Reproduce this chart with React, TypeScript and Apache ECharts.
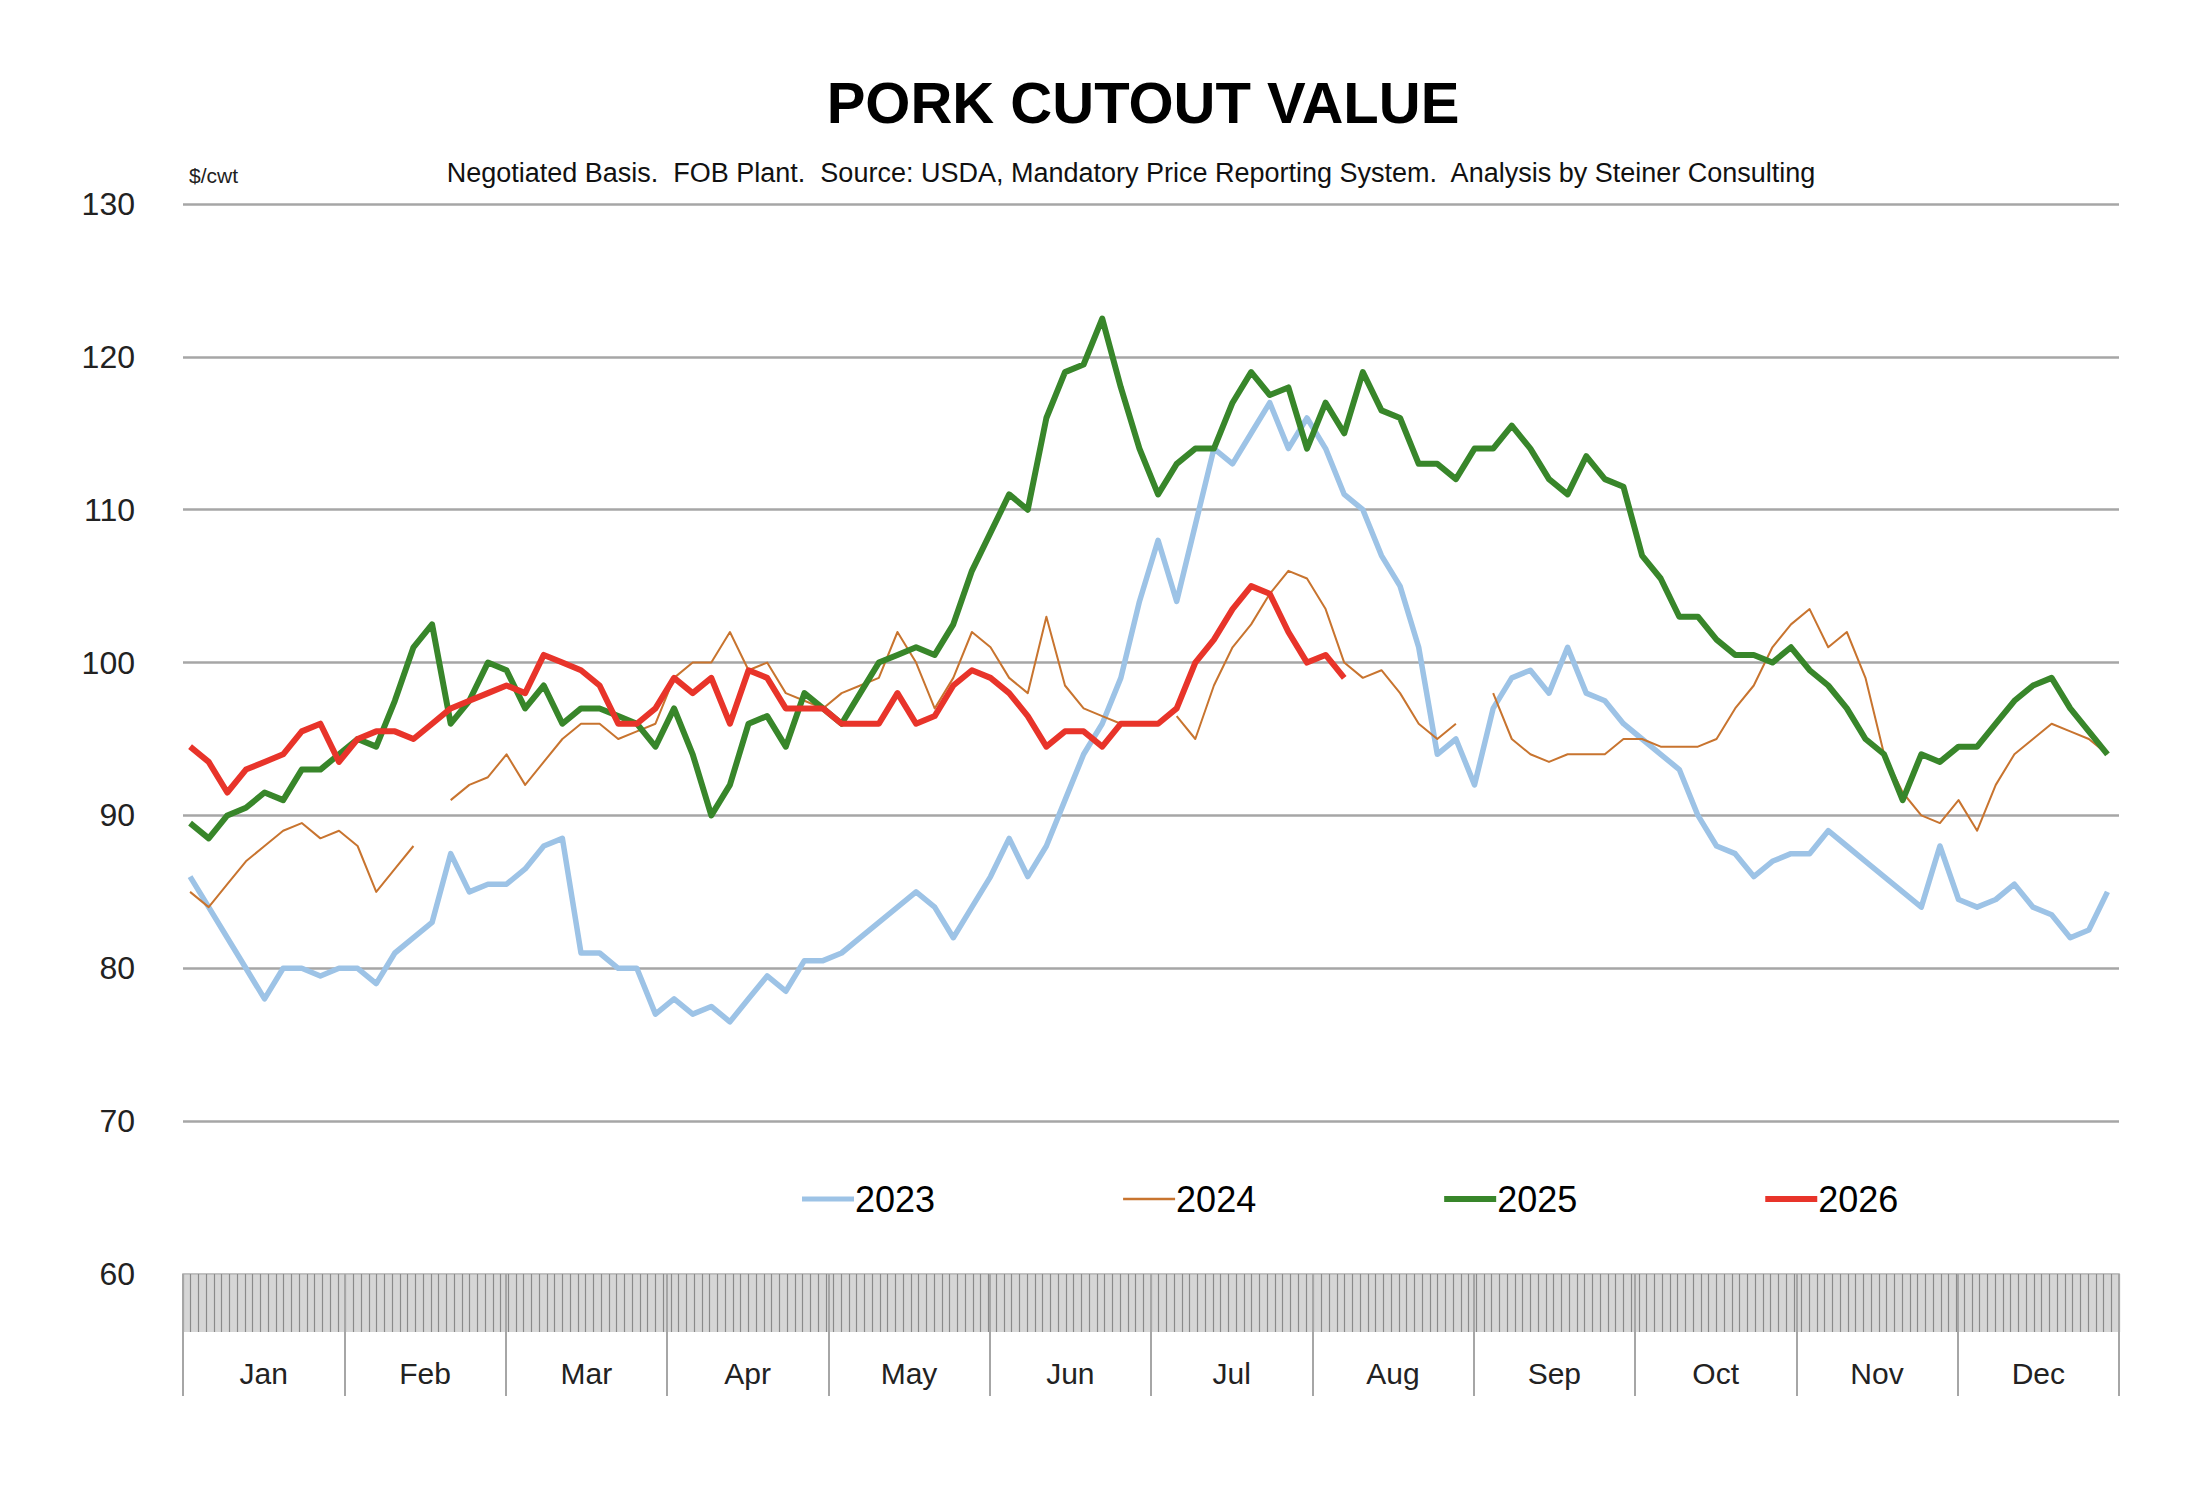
import { useEffect, useRef } from 'react'
import * as echarts from 'echarts'

// two readings per week, starting in early January
const years = ['2023', '2024', '2025', '2026']
const months = ['Jan', 'Feb', 'Mar', 'Apr', 'May', 'Jun', 'Jul', 'Aug', 'Sep', 'Oct', 'Nov', 'Dec']
const yTicks = { min: 60, max: 130, step: 10 }

const v2023 = [
  86, 84, 82, 80, 78, 80, 80, 79.5, 80, 80, 79, 81, 82, 83, 87.5, 85, 85.5, 85.5, 86.5, 88, 88.5, 81, 81, 80, 80, 77,
  78, 77, 77.5, 76.5, 78, 79.5, 78.5, 80.5, 80.5, 81, 82, 83, 84, 85, 84, 82, 84, 86, 88.5, 86, 88, 91, 94, 96, 99, 104,
  108, 104, 109, 114, 113, 115, 117, 114, 116, 114, 111, 110, 107, 105, 101, 94, 95, 92, 97, 99, 99.5, 98, 101, 98, 97.5,
  96, 95, 94, 93, 90, 88, 87.5, 86, 87, 87.5, 87.5, 89, 88, 87, 86, 85, 84, 88, 84.5, 84, 84.5, 85.5, 84, 83.5, 82, 82.5, 85,
]
const v2024 = [
  85, 84, 85.5, 87, 88, 89, 89.5, 88.5, 89, 88, 85, 86.5, 88, null, 91, 92, 92.5, 94, 92, 93.5, 95, 96, 96, 95, 95.5, 96,
  99, 100, 100, 102, 99.5, 100, 98, 97.5, 97, 98, 98.5, 99, 102, 100, 97, 99, 102, 101, 99, 98, 103, 98.5, 97, 96.5, 96, 96,
  null, 96.5, 95, 98.5, 101, 102.5, 104.5, 106, 105.5, 103.5, 100, 99, 99.5, 98, 96, 95, 96, null, 98, 95, 94, 93.5, 94,
  94, 94, 95, 95, 94.5, 94.5, 94.5, 95, 97, 98.5, 101, 102.5, 103.5, 101, 102, 99, 94, 91.5, 90, 89.5, 91, 89, 92, 94, 95,
  96, 95.5, 95, 94,
]
const v2025 = [
  89.5, 88.5, 90, 90.5, 91.5, 91, 93, 93, 94, 95, 94.5, 97.5, 101, 102.5, 96, 97.5, 100, 99.5, 97, 98.5, 96, 97, 97, 96.5,
  96, 94.5, 97, 94, 90, 92, 96, 96.5, 94.5, 98, 97, 96, 98, 100, 100.5, 101, 100.5, 102.5, 106, 108.5, 111, 110, 116, 119,
  119.5, 122.5, 118, 114, 111, 113, 114, 114, 117, 119, 117.5, 118, 114, 117, 115, 119, 116.5, 116, 113, 113, 112, 114, 114,
  115.5, 114, 112, 111, 113.5, 112, 111.5, 107, 105.5, 103, 103, 101.5, 100.5, 100.5, 100, 101, 99.5, 98.5, 97, 95, 94, 91,
  94, 93.5, 94.5, 94.5, 96, 97.5, 98.5, 99, 97, 95.5, 94,
]
const v2026 = [
  94.5, 93.5, 91.5, 93, 93.5, 94, 95.5, 96, 93.5, 95, 95.5, 95.5, 95, 96, 97, 97.5, 98, 98.5, 98, 100.5, 100, 99.5, 98.5,
  96, 96, 97, 99, 98, 99, 96, 99.5, 99, 97, 97, 97, 96, 96, 96, 98, 96, 96.5, 98.5, 99.5, 99, 98, 96.5, 94.5, 95.5, 95.5,
  94.5, 96, 96, 96, 97, 100, 101.5, 103.5, 105, 104.5, 102, 100, 100.5, 99,
]

const seriesValues = [v2023, v2024, v2025, v2026]
const colors = ['#9dc3e6', '#c8742f', '#38862a', '#e8342a']
const widths = [5.5, 2, 6, 6]
const legendThickness = [5, 2.5, 6, 6]
const POINTS = 104
const TRADING_DAYS = 250

const font = '"Liberation Sans", Arial, sans-serif'

export default function App() {
  const ref = useRef<HTMLDivElement | null>(null)

  useEffect(() => {
    if (!ref.current) return
    const chart = echarts.init(ref.current, undefined, { renderer: 'svg' })
    chart.setOption({
      animation: false,
      backgroundColor: '#fff',
      textStyle: { fontFamily: font },
      title: [
        {
          text: 'PORK CUTOUT VALUE',
          left: 1138,
          top: 68,
          textAlign: 'center',
          textStyle: { fontSize: 58, fontWeight: 'bold', color: '#000', fontFamily: font },
        },
        {
          text: 'Negotiated Basis.  FOB Plant.  Source: USDA, Mandatory Price Reporting System.  Analysis by Steiner Consulting',
          left: 1126,
          top: 154,
          textAlign: 'center',
          textStyle: { fontSize: 27, fontWeight: 'normal', color: '#111', fontFamily: font },
        },
        {
          text: '$/cwt',
          left: 184,
          top: 160,
          textStyle: { fontSize: 21, fontWeight: 'normal', color: '#222', fontFamily: font },
        },
      ],
      legend: {
        left: 797,
        top: 1176,
        itemWidth: 52,
        itemHeight: 36,
        itemGap: 188,
        data: years.map((y, i) => ({
          name: y,
          icon: `path://M0,${18 - legendThickness[i] / 2}H52V${18 + legendThickness[i] / 2}H0Z`,
          itemStyle: { color: colors[i] },
        })),
        textStyle: { fontSize: 36, color: '#000', fontFamily: font, padding: [0, 0, 0, -4] },
      },
      graphic: [
        { type: 'rect', shape: { x: 183, y: 1274, width: 1936, height: 58 }, style: { fill: '#d6d6d6' }, z: -1 },
      ],
      grid: { left: 183, right: 83, top: 204, bottom: 218 },
      xAxis: [
        {
          type: 'value',
          min: 0,
          max: POINTS,
          show: false,
        },
        {
          type: 'value',
          min: 0,
          max: TRADING_DAYS,
          interval: 1,
          position: 'bottom',
          axisLine: { show: true, lineStyle: { color: '#bfbfbf', width: 2 } },
          axisTick: { show: true, length: 58, lineStyle: { color: '#8a8a8a', width: 1.2 } },
          axisLabel: { show: false },
          splitLine: { show: false },
        },
        {
          type: 'category',
          data: months,
          boundaryGap: true,
          position: 'bottom',
          axisLine: { show: false },
          axisTick: { show: true, length: 122, lineStyle: { color: '#a6a6a6', width: 2 } },
          axisLabel: { margin: 84, fontSize: 30, color: '#222', fontFamily: font },
        },
      ],
      yAxis: {
        type: 'value',
        min: yTicks.min,
        max: yTicks.max,
        interval: yTicks.step,
        axisLine: { show: false },
        axisTick: { show: false },
        axisLabel: { fontSize: 32, color: '#222', margin: 48, fontFamily: font },
        splitLine: {
          lineStyle: {
            color: ['rgba(0,0,0,0)', '#a6a6a6', '#a6a6a6', '#a6a6a6', '#a6a6a6', '#a6a6a6', '#a6a6a6', '#a6a6a6'],
            width: 2.5,
          },
        },
      },
      series: years.map((y, i) => ({
        name: y,
        type: 'line',
        xAxisIndex: 0,
        showSymbol: false,
        symbol: 'none',
        connectNulls: false,
        lineStyle: { color: colors[i], width: widths[i], join: 'round' },
        itemStyle: { color: colors[i] },
        data: seriesValues[i].map((v, k) => [k + 0.38, v]),
      })),
    })
    return () => chart.dispose()
  }, [])

  return <div ref={ref} style={{ position: 'fixed', left: 0, top: 0, width: 2202, height: 1492 }} />
}
